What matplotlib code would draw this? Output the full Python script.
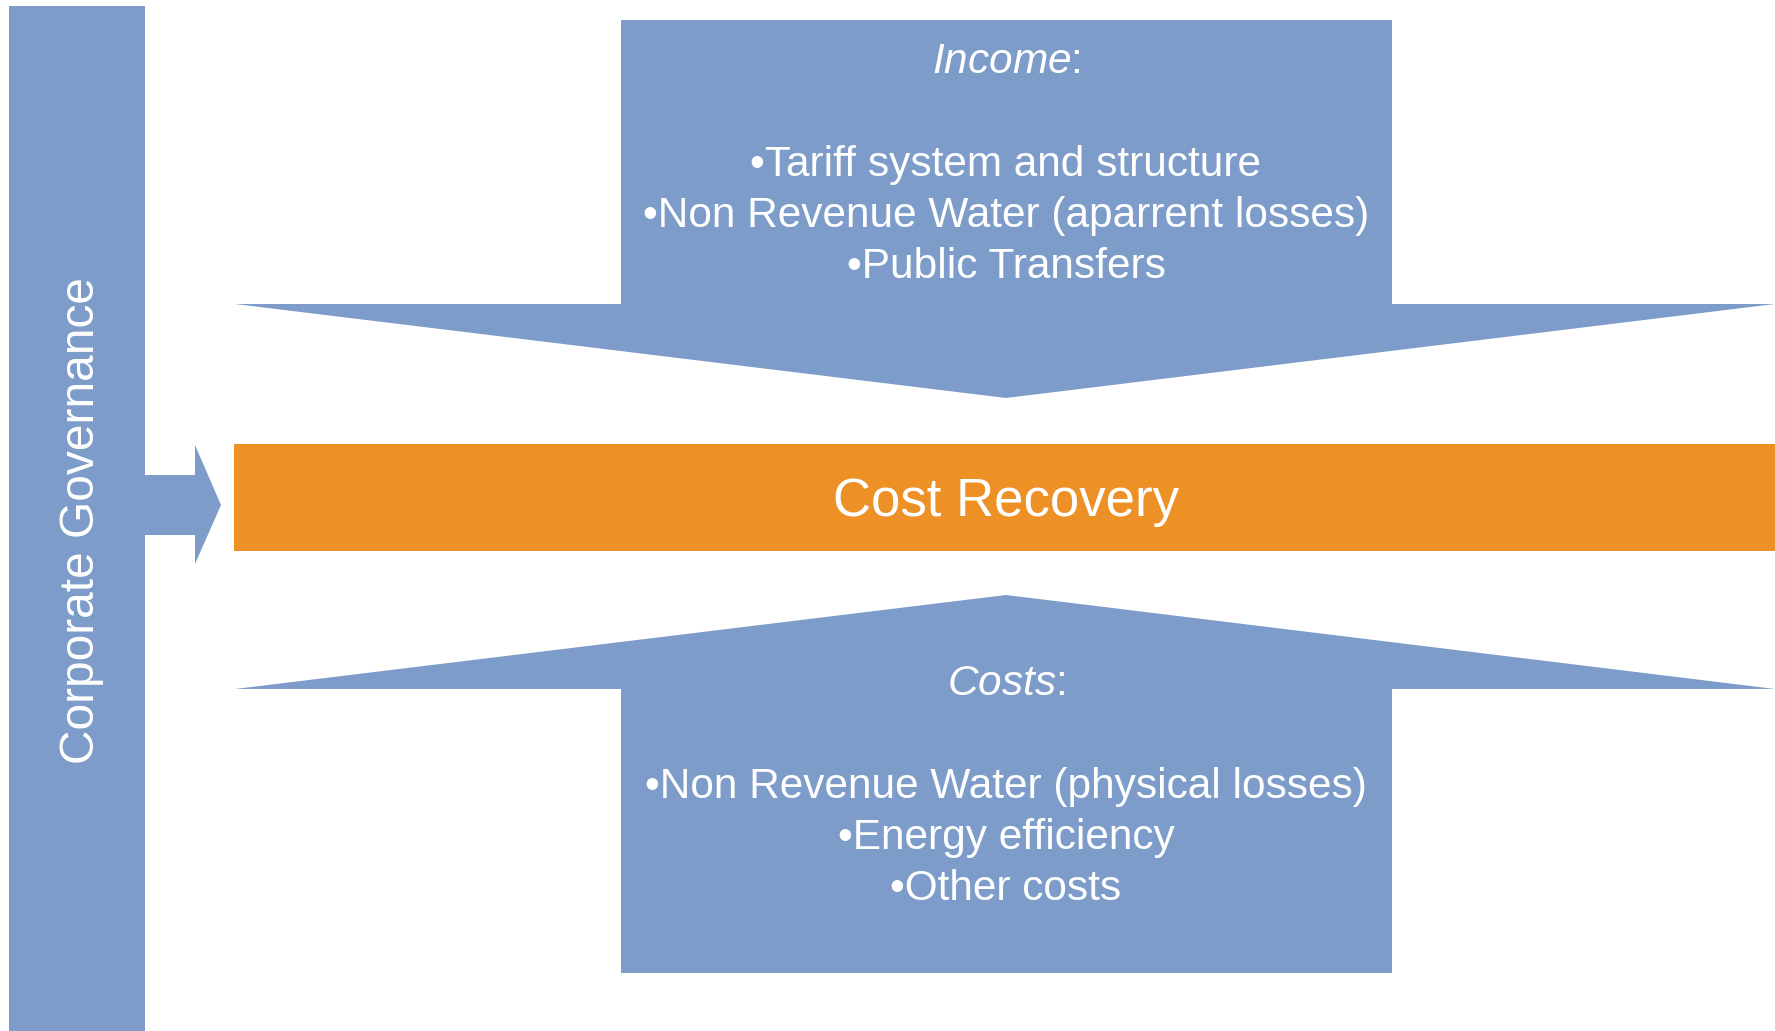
import matplotlib.pyplot as plt
from matplotlib.patches import Polygon, Rectangle

plt.rcParams['font.family'] = ['Liberation Sans', 'DejaVu Sans']
plt.rcParams['mathtext.fontset'] = 'custom'
plt.rcParams['mathtext.rm'] = 'Liberation Sans'
plt.rcParams['mathtext.it'] = 'Liberation Sans:italic'

# ---------------- texts ----------------
side_label = "Corporate Governance"
center_label = "Cost Recovery"
income_title = r"$\mathit{Income}$:"
income_items = ["Tariff system and structure",
                "Non Revenue Water (aparrent losses)",
                "Public Transfers"]
costs_title = r"$\mathit{Costs}$:"
costs_items = ["Non Revenue Water (physical losses)",
               "Energy efficiency",
               "Other costs"]

BLUE = '#7D9CC9'
ORANGE = '#ED9126'

W, H = 1775, 1031
fig = plt.figure(figsize=(W / 100, H / 100), dpi=100)
ax = fig.add_axes([0, 0, 1, 1])
ax.set_xlim(0, W)
ax.set_ylim(H, 0)
ax.axis('off')

# left vertical bar + small arrow
ax.add_patch(Rectangle((9, 6), 136, H, color=BLUE, lw=0))
ax.add_patch(Polygon([(145, 475), (195, 475), (195, 445), (221, 505),
                      (195, 564), (195, 535), (145, 535)], color=BLUE, lw=0))
ax.text(82, 521, side_label, rotation=90, color='white', fontsize=34.5,
        ha='center', va='center')

# orange band
ax.add_patch(Rectangle((234, 444), W - 234, 107, color=ORANGE, lw=0))
ax.text(1006, 502, center_label, color='white', fontsize=38,
        ha='center', va='center')

# upper arrow (income)
ax.add_patch(Polygon([(621, 20), (1392, 20), (1392, 304), (W, 304),
                      (1006, 398), (235, 304), (621, 304)], color=BLUE, lw=0))
# lower arrow (costs)
ax.add_patch(Polygon([(1006, 595), (W, 689), (1392, 689), (1392, 973),
                      (621, 973), (621, 689), (235, 689)], color=BLUE, lw=0))

fs = 30.5
ax.text(1006, 62, income_title, color='white', fontsize=fs, ha='center', va='center')
for i, item in enumerate(income_items):
    ax.text(1006, 165 + i * 51, '\u2022' + item, color='white', fontsize=fs,
            ha='center', va='center')

ax.text(1006, 684, costs_title, color='white', fontsize=fs, ha='center', va='center')
for i, item in enumerate(costs_items):
    ax.text(1006, 787 + i * 51, '\u2022' + item, color='white', fontsize=fs,
            ha='center', va='center')

fig.savefig('out.png', dpi=100, facecolor='white')
